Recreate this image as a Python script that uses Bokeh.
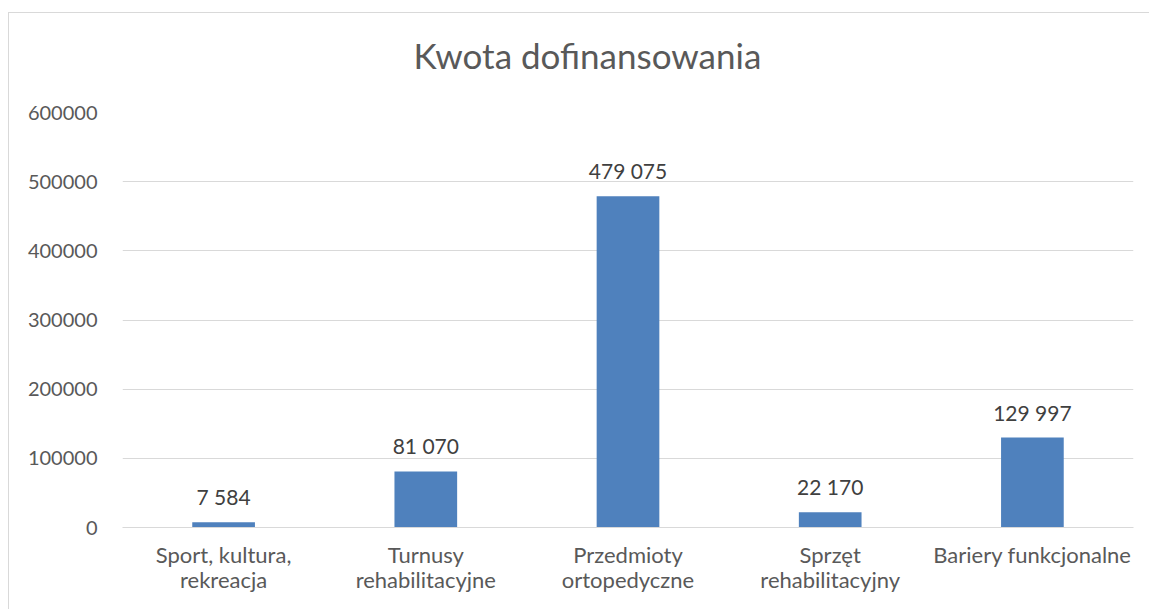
from bokeh.plotting import figure
from bokeh.models import ColumnDataSource, Range1d, SingleIntervalTicker, Title
from bokeh.core.properties import value
from bokeh.embed import file_html
from bokeh.resources import INLINE

title_text = "Kwota dofinansowania"
categories = ["Sport, kultura,\nrekreacja", "Turnusy\nrehabilitacyjne", "Przedmioty\nortopedyczne",
              "Sprzęt\nrehabilitacyjny", "Bariery funkcjonalne"]
values = [7584, 81070, 479075, 22170, 129997]
labels = ["{:,}".format(v).replace(",", " ") for v in values]

FONT = "Lato"
src = ColumnDataSource(dict(cat=categories, val=values, lab=labels))

p = figure(x_range=categories, y_range=Range1d(0, 600000), width=1141, height=597,
           output_backend="svg", toolbar_location=None, title=title_text,
           min_border_left=113, min_border_right=17, min_border_bottom=83, min_border_top=99)
p.styles = {"border-left": "1px solid #d9d9d9", "border-top": "1px solid #d9d9d9",
            "margin-top": "12px", "margin-left": "8px"}

p.title.align = "left"
p.title.offset = 291
p.title.text_font = FONT
p.title.text_font_size = "35px"
p.title.text_font_style = "normal"
p.title.text_color = "#595959"
p.title.standoff = 10

# invisible spacer between the frame and the title
spacer = Title(text=" ", text_font_size="1px", standoff=29, text_color="white")
p.add_layout(spacer, "above")

p.outline_line_color = None
p.background_fill_color = "white"
p.border_fill_color = "white"

p.vbar(x="cat", top="val", width=0.31, source=src, color="#4F81BD", line_color=None)
p.text(x="cat", y="val", text="lab", source=src, text_align="center", text_baseline="bottom",
       y_offset=-13, text_font=value(FONT), text_font_size="21px", text_color="#404040")

p.yaxis.ticker = SingleIntervalTicker(interval=100000)
p.yaxis.axis_line_color = None
p.yaxis.major_tick_line_color = None
p.yaxis.minor_tick_line_color = None
p.yaxis.major_label_standoff = 19
p.yaxis.major_label_text_font = FONT
p.yaxis.major_label_text_font_size = "20px"
p.yaxis.major_label_text_color = "#595959"
p.yaxis.formatter.use_scientific = False

p.xaxis.axis_line_color = "#d9d9d9"
p.xaxis.major_tick_line_color = None
p.xaxis.minor_tick_line_color = None
p.xaxis.major_label_standoff = 7
p.xaxis.major_label_text_font = FONT
p.xaxis.major_label_text_font_size = "22px"
p.xaxis.major_label_text_line_height = 0.95
p.xaxis.major_label_text_color = "#595959"

p.xgrid.grid_line_color = None
p.ygrid.grid_line_color = "#d9d9d9"
p.ygrid.grid_line_width = 1

open("out.html", "w").write(file_html(p, INLINE))
